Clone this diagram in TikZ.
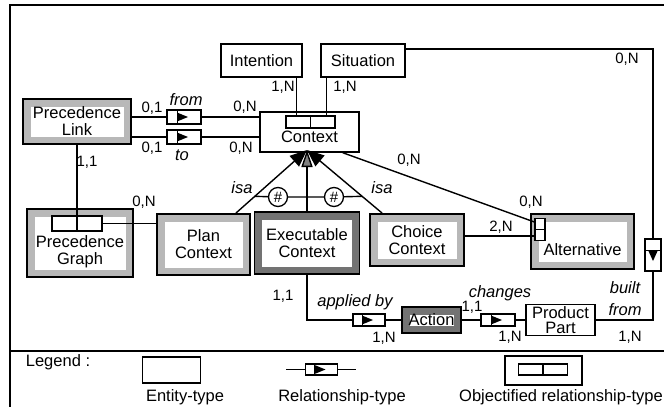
\documentclass[tikz,border=0pt]{standalone}
\usepackage{fontspec}
\setmainfont{Liberation Sans}
\usetikzlibrary{arrows.meta,calc}

\tikzset{
  ent/.style={draw, line width=1.4pt, fill=white, inner sep=0pt, align=center,
    font=\fontsize{16.5}{17}\selectfont},
  shaded/.style={ent, line width=1.8pt, fill=#1,
    path picture={\fill[white] ([shift={(7.5pt,7.5pt)}]path picture bounding box.south west)
      rectangle ([shift={(-7.5pt,-7.5pt)}]path picture bounding box.north east);}},
  shaded/.default=black!28,
  relbox/.style={draw, line width=1.3pt, fill=white, inner sep=0pt,
    minimum width=34pt, minimum height=14pt,
    path picture={
      \draw[black, line width=1pt] ([shift={(-7pt,-8pt)}]path picture bounding box.center) -- ++(0pt,16pt);
      \fill[black] ([shift={(-7pt,-4.5pt)}]path picture bounding box.center) -- ++(0pt,9pt) -- ++(11pt,-4.5pt) -- cycle;}},
  relboxv/.style={draw, line width=1.3pt, fill=white, inner sep=0pt,
    minimum width=16pt, minimum height=32pt,
    path picture={
      \draw[black, line width=1pt] ([shift={(-8pt,5pt)}]path picture bounding box.center) -- ++(16pt,0pt);
      \fill[black] ([shift={(-5pt,5pt)}]path picture bounding box.center) -- ++(10pt,0pt) -- ++(-5pt,-11pt) -- cycle;}},
  objrel/.style={draw, line width=1.4pt, fill=white, inner sep=0pt,
    path picture={\draw[black, line width=1.4pt] (path picture bounding box.north) -- (path picture bounding box.south);}},
  objrelv/.style={draw, line width=1.2pt, fill=white, inner sep=0pt,
    path picture={\draw[black, line width=1.2pt] (path picture bounding box.west) -- (path picture bounding box.east);}},
  card/.style={font=\fontsize{15}{15}\selectfont, inner sep=0pt},
  role/.style={font=\fontsize{16.5}{16}\selectfont\itshape, inner sep=0pt},
  lgd/.style={font=\fontsize{16.5}{16}\selectfont, inner sep=0pt},
  link/.style={line width=1.4pt},
  isa/.style={line width=1.4pt, -{Triangle[length=17pt,width=14pt]}},
  hash/.style={circle, draw, line width=1.3pt, fill=white, inner sep=0pt,
    minimum size=19pt, font=\fontsize{15}{15}\selectfont}
}

\begin{document}
\begin{tikzpicture}[x=1pt,y=-1pt]
  \useasboundingbox (0,0) rectangle (664,407);
  \draw[line width=2pt] (664,5) -- (10,5) -- (10,407);
  \draw[line width=1.6pt] (10,351) -- (664,351);

  % entity-types
  \node[ent, minimum width=81pt, minimum height=33pt] (intent) at (261.5,60.5) {Intention};
  \node[ent, minimum width=84pt, minimum height=33pt] (sit) at (363,60.5) {Situation};
  \node[ent, minimum width=99pt, minimum height=40pt] (ctx) at (309.5,132) {\rule{0pt}{22pt}Context};
  \node[objrel, minimum width=49pt, minimum height=12pt] (ctxobj) at (310.5,122) {};
  \node[shaded, minimum width=108pt, minimum height=45pt] (plink) at (77,121.5) {Precedence\\Link};
  \node[shaded, minimum width=106pt, minimum height=68pt] (pgraph) at (80,243) {\rule{0pt}{30pt}Precedence\\Graph};
  \node[objrel, minimum width=50pt, minimum height=15pt] (pgobj) at (77,223.5) {};
  \node[shaded, minimum width=93pt, minimum height=61pt] (plan) at (203.5,244.5) {Plan\\Context};
  \node[shaded=black!55, minimum width=105pt, minimum height=62pt] (exec) at (307,243) {Executable\\Context};
  \node[shaded, minimum width=94pt, minimum height=52pt] (choice) at (417,240) {Choice\\Context};
  \node[shaded, minimum width=103pt, minimum height=55pt] (alt) at (582.5,241.5) {\rule{0pt}{29pt}Alternative};
  \node[objrelv, minimum width=10pt, minimum height=22pt] (altobj) at (540,229.5) {};
  \node[shaded=black!55, minimum width=59pt, minimum height=26pt] (action) at (431.5,320) {Action};
  \node[ent, minimum width=69pt, minimum height=31pt, font=\fontsize{16.5}{15}\selectfont] (ppart) at (560.5,320) {Product\\Part};

  % relationship-types
  \node[relbox] (from) at (184,117) {};
  \node[relbox] (to) at (184,137) {};
  \node[relbox, minimum width=32pt, minimum height=12pt] (appl) at (369,320) {};
  \node[relbox, minimum height=12pt] (chg) at (498,320) {};
  \node[relboxv] (built) at (653,255) {};

  \draw[link] (plink.east |- from) -- (from);
  \draw[link] (from) -- (ctx.west |- from);
  \draw[link] (plink.east |- to) -- (to);
  \draw[link] (to) -- (ctx.west |- to);
  \draw[link] ([xshift=-6pt]intent.south east) -- ([xshift=-6pt]intent.south east |- ctxobj.north);
  \draw[link] ([xshift=6pt]sit.south west) -- ([xshift=6pt]sit.south west |- ctxobj.north);
  \draw[link] ([yshift=11.5pt]sit.east) -| (built);
  \draw[link] (built) |- (ppart);
  \draw[link] (plink) -- (pgobj);
  \draw[link] (pgobj) -- (plan.west |- pgobj);
  \draw[link] ([xshift=-17pt]ctx.south east) -- ([yshift=7.5pt]altobj.west);
  \draw[link] ([yshift=4pt]choice.east) -- ([yshift=-6.5pt]altobj.west);
  \draw[link] (exec) |- (appl);
  \draw[link] (appl) -- (action);
  \draw[link] (action) -- (chg);
  \draw[link] (chg) -- (ppart);

  % isa
  \coordinate (isatip) at (307,150);
  \coordinate (isaL) at ([xshift=-15pt]plan.north east);
  \coordinate (isaR) at ([xshift=13pt]choice.north west);
  \draw[isa] (isaL) -- (isatip);
  \draw[isa] (isaR) -- (isatip);
  \draw[isa, -{Triangle[length=17pt,width=11pt,fill=gray]}] (exec) -- (isatip);
  \node[hash] (h1) at (278,197) {\#};
  \node[hash] (h2) at (334,197) {\#};
  \draw[link] ($(isaL)!0.266!(isatip)$) -- (h1) -- (h2) -- ($(isaR)!0.266!(isatip)$);

  % cardinalities and roles
  \node[card] (cInt) at (283,87) {1,N};
  \node[card] (cSit) at (345,87) {1,N};
  \node[card] (cSitB) at (627,59) {0,N};
  \node[card] (cFromL) at (152,108) {0,1};
  \node[role] (rFrom) at (186,100) {from};
  \node[card] (cFromC) at (245,107) {0,N};
  \node[card] (cToL) at (152,148) {0,1};
  \node[role] (rTo) at (182,155) {to};
  \node[card] (cToC) at (241,148) {0,N};
  \node[card] (cLink) at (87,162) {1,1};
  \node[card] (cGraph) at (144,202) {0,N};
  \node[role] (isaA) at (242,188) {isa};
  \node[role] (isaB) at (382,188) {isa};
  \node[card] (cCtxAlt) at (409,160) {0,N};
  \node[card] (cAlt) at (531,202) {0,N};
  \node[card] (cChoice) at (501,227) {2,N};
  \node[card] (cExec) at (283,296) {1,1};
  \node[role] (rAppl) at (355,302) {applied by};
  \node[card] (cAppl) at (384,338) {1,N};
  \node[card] (cAct) at (472,307) {1,1};
  \node[role] (rChg) at (500,293) {changes};
  \node[card] (cChg) at (510,337) {1,N};
  \node[role] (rBuilt) at (625,288) {built};
  \node[role] (rBuiltB) at (625,310) {from};
  \node[card] (cBuilt) at (630,337) {1,N};

  % legend
  \node[lgd] (lgdT) at (58,362) {Legend :};
  \node[ent, minimum width=58pt, minimum height=26pt] (lgdEnt) at (171.5,370) {};
  \node[lgd] (lgdEntT) at (185,397) {Entity-type};
  \node[relbox, minimum width=32pt, minimum height=11pt] (lgdRel) at (321.5,369.5) {};
  \coordinate (lgdRelA) at (286,369.5);
  \coordinate (lgdRelB) at (356,369.5);
  \draw[link] (lgdRelA) -- (lgdRel) -- (lgdRelB);
  \node[lgd] (lgdRelT) at (342,397) {Relationship-type};
  \node[ent, minimum width=77pt, minimum height=29pt] (lgdObjBox) at (543.5,370.5) {};
  \node[objrel, minimum width=49pt, minimum height=11pt] (lgdObj) at (543,369.5) {};
  \node[lgd, anchor=west] (lgdObjT) at (459,397) {Objectified relationship-type};
\end{tikzpicture}
\end{document}
